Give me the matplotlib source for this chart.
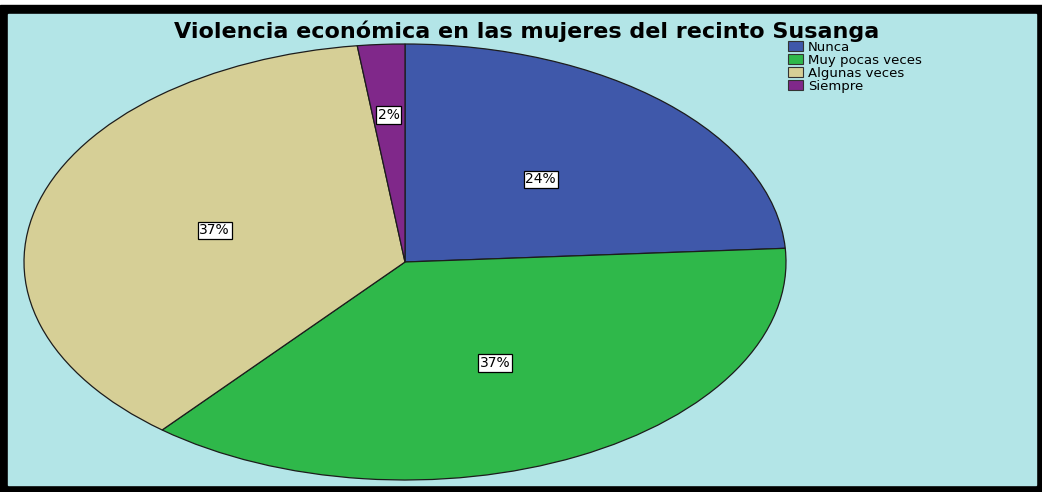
import matplotlib
matplotlib.use('Agg')
import matplotlib.pyplot as plt
from matplotlib.patches import Rectangle

# data
categories = ['Nunca', 'Muy pocas veces', 'Algunas veces', 'Siempre']
percents = [24, 37, 37, 2]
colors = ['#3f58aa', '#2fb84a', '#d6cf96', '#80288a']
title = 'Violencia económica en las mujeres del recinto Susanga'

W, H = 1042, 492
fig = plt.figure(figsize=(W / 100, H / 100), dpi=100)
fig.patch.set_facecolor('white')

# black frame and cyan panel (pixel coords from top-left)
def px_rect(x0, y0, x1, y1, color):
    fig.patches.append(Rectangle((x0 / W, 1 - y1 / H), (x1 - x0) / W, (y1 - y0) / H,
                                 transform=fig.transFigure, color=color, zorder=-10))

px_rect(0, 5, W, H, 'black')
px_rect(8, 14, 1036, 485, '#b3e5e7')

ax = fig.add_axes([0, 0, 1, 1])
ax.patch.set_alpha(0)
ax.axis('off')

# pie centre at (405, 262) px, radii 381 x 218 px
cx, cy, rx, ry = 405, 262, 381, 218
wedges, texts, autotexts = ax.pie(
    percents, colors=colors, startangle=90, counterclock=False,
    autopct='%d%%', pctdistance=0.52,
    wedgeprops=dict(edgecolor='#1c1c1c', linewidth=0.9),
    textprops=dict(fontsize=10, family='DejaVu Sans'))
ax.set_aspect('auto')
ax.set_xlim(-cx / rx, (W - cx) / rx)
ax.set_ylim(-(H - cy) / ry, cy / ry)

for t in autotexts:
    t.set_bbox(dict(boxstyle='square,pad=0.12', facecolor='white', edgecolor='black', linewidth=0.9))
# small slice label sits further out
x, y = autotexts[3].get_position()
autotexts[3].set_position((x * 1.3, y * 1.3))

fig.text(527 / W, 1 - 31 / H, title, ha='center', va='center',
         fontsize=16, fontweight='bold', family='DejaVu Sans')

handles = [Rectangle((0, 0), 1, 1, facecolor=c, edgecolor='#333333', linewidth=0.8) for c in colors]
leg = fig.legend(handles, categories, loc='upper left', bbox_to_anchor=(788 / W, 1 - 41 / H),
                 frameon=False, prop=dict(family='DejaVu Sans', size=9.5),
                 handlelength=1.15, handleheight=0.8, handletextpad=0.35,
                 labelspacing=0.0, borderpad=0, borderaxespad=0)

fig.savefig('out.png', dpi=100, facecolor=fig.get_facecolor())
